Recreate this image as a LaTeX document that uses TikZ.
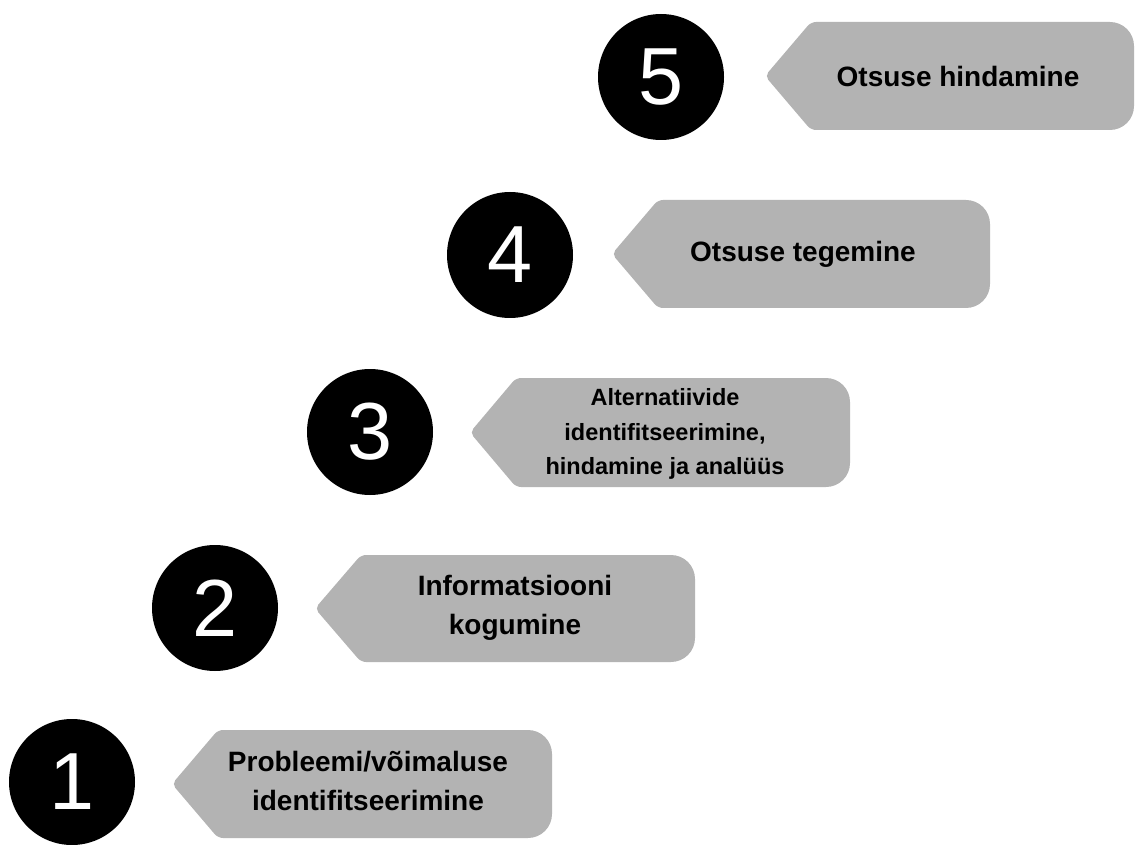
\documentclass[tikz,border=0pt]{standalone}
\usepackage{fontspec}
\setmainfont{Liberation Sans}
\definecolor{boxgray}{RGB}{179,179,179}
\tikzset{
  numcirc/.style={circle, fill=black, minimum size=126pt, inner sep=0pt,
    text=white, font=\fontsize{81}{81}\selectfont},
  arrowbox/.style={fill=boxgray},
  boxtext/.style={align=center, text=black, font=\bfseries\fontsize{28}{39}\selectfont},
  boxtextsmall/.style={align=center, text=black, font=\bfseries\fontsize{23.5}{34.5}\selectfont}
}
\newcommand{\arrowshape}[4]{% L R T B
  \fill[arrowbox, rounded corners=5pt] (#1,{(#3+#4)/2}) -- (#1+46,#3)
    [rounded corners=24pt] -- (#2,#3) -- (#2,#4)
    [rounded corners=5pt] -- (#1+46,#4) -- cycle;}
\begin{document}
\begin{tikzpicture}[x=1pt,y=-1pt]
\useasboundingbox (0,0) rectangle (1136,845);
% step 5
\arrowshape{765}{1134}{22}{130}
\node[numcirc] (c5) at (661,77) {5};
\node[boxtext] (t5) at (958,76) {Otsuse hindamine};
% step 4
\arrowshape{612}{990}{200}{308}
\node[numcirc] (c4) at (510,255) {4};
\node[boxtext] (t4) at (803,254) {Otsuse tegemine};
% step 3
\arrowshape{470}{850}{378}{487}
\node[numcirc] (c3) at (370,432) {3};
\node[boxtextsmall] (t3) at (665,434) {Alternatiivide\\identifitseerimine,\\hindamine ja analüüs};
% step 2
\arrowshape{315}{695}{555}{662}
\node[numcirc] (c2) at (215,608) {2};
\node[boxtext] (t2) at (515,608) {Informatsiooni\\kogumine};
% step 1
\arrowshape{172}{552}{730}{838}
\node[numcirc] (c1) at (72,782) {1};
\node[boxtext] (t1) at (368,781) {Probleemi/võimaluse\\identifitseerimine};
\end{tikzpicture}
\end{document}
